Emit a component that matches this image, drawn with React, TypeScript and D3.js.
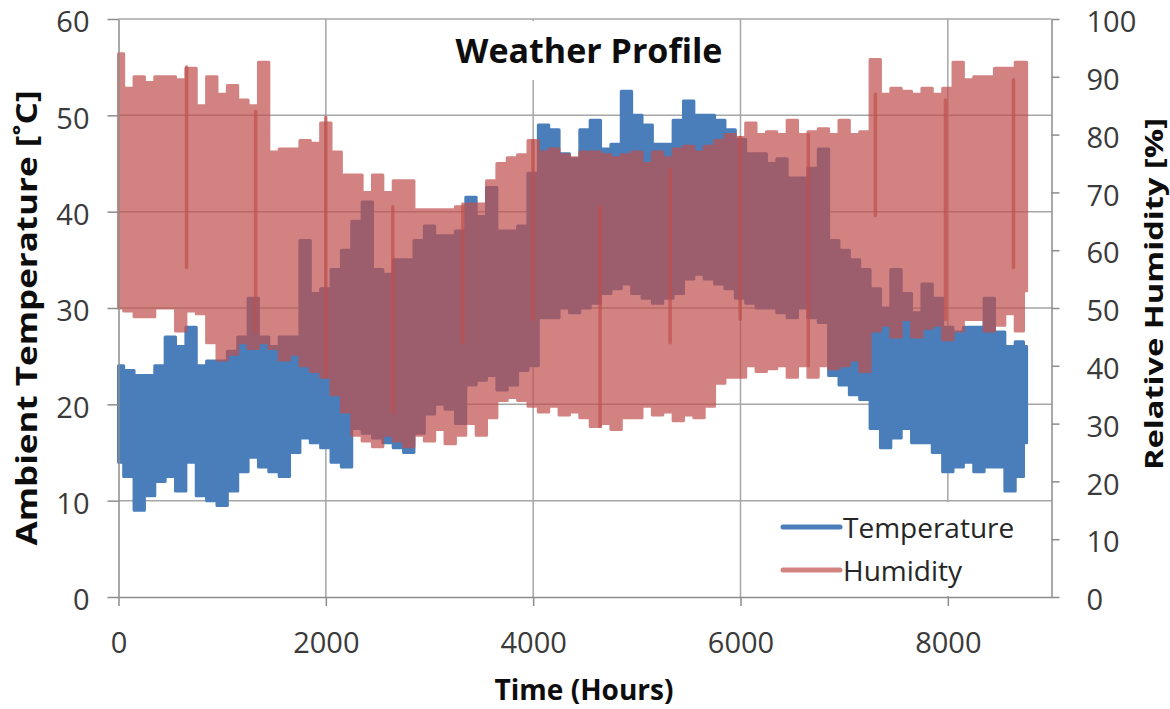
import React, { useEffect, useRef } from "react";
import * as d3 from "d3";

const hours = [
  0, 100, 200, 300, 400, 500, 600, 700, 800, 900, 1000, 1100, 1200, 1300, 1400, 1500, 1600, 1700, 1800, 1900,
  2000, 2100, 2200, 2300, 2400, 2500, 2600, 2700, 2800, 2900, 3000, 3100, 3200, 3300, 3400, 3500, 3600, 3700,
  3800, 3900, 4000, 4100, 4200, 4300, 4400, 4500, 4600, 4700, 4800, 4900, 5000, 5100, 5200, 5300, 5400, 5500,
  5600, 5700, 5800, 5900, 6000, 6100, 6200, 6300, 6400, 6500, 6600, 6700, 6800, 6900, 7000, 7100, 7200, 7300,
  7400, 7500, 7600, 7700, 7800, 7900, 8000, 8100, 8200, 8300, 8400, 8500, 8600, 8700, 8760,
];

// temperature envelope [°C]
const tempHigh = [
  24, 23.5, 23, 23, 24, 27, 26, 28, 24, 24.5, 24.5, 25.5, 27, 31, 27, 26, 27, 27, 37, 31.5,
  32, 34, 36, 39, 41, 34, 33.5, 35, 35, 37, 38.5, 37.5, 37.5, 38, 41.5, 39.5, 42.5, 38, 38, 38.5,
  44, 49, 48.5, 46, 45.5, 48.5, 49.5, 46.5, 47, 52.5, 50, 49, 47, 47, 49.5, 51.5, 50, 50, 49.5, 48.5,
  47.5, 46, 46, 45, 45.5, 43.5, 43.5, 44.5, 46.5, 37, 36, 35, 34, 32, 30, 34, 31.5, 29.5, 32.5, 31,
  28, 27.5, 28, 28, 31, 27.5, 26, 26.5, 26,
];
const tempLow = [
  14, 12.5, 9, 10.5, 12, 12.5, 11, 14, 10.5, 10, 9.5, 11, 13, 14.5, 13.5, 13, 12.5, 15, 16.5, 16,
  15.5, 14, 13.5, 17.5, 17, 16.5, 16, 15.5, 15, 17, 19, 20, 19.5, 18, 22, 22.5, 23, 21.5, 22, 23.5,
  24, 29, 29, 30, 29.5, 30, 30.5, 31.5, 32, 32.5, 31.5, 31, 30.5, 31, 31.5, 33, 33.5, 33, 32.5, 32,
  31, 30.5, 30, 30, 29.5, 29, 30, 29, 28.5, 23, 22, 21, 20.5, 17.5, 15.5, 16.5, 17.5, 16, 16, 15,
  13, 13.5, 14, 13, 13.5, 13.5, 11, 12.5, 16,
];

// relative humidity envelope [%]
const humHigh = [
  94, 88, 90, 89, 90, 90, 89.5, 91.5, 85, 90, 87, 88.5, 86, 85, 92.5, 77, 77.5, 77.5, 79, 78.5,
  82, 77, 73, 73, 70, 73, 70, 72, 72, 67, 67, 67, 67, 67.5, 68, 68, 72, 75, 76, 76.5,
  79, 77, 77.5, 76.5, 76, 77, 77, 76.5, 76, 76.5, 77, 75, 77, 76, 77.5, 78, 77, 78, 79, 80,
  79.5, 82, 80, 80.5, 80, 82.5, 80, 80.5, 81, 80, 82.5, 80, 80.5, 93, 87, 88, 87.5, 87, 88, 87,
  88, 92.5, 89.5, 90, 90, 91.5, 91.5, 92.5, 92.5,
];
const humLow = [
  50, 49.5, 48.5, 48.5, 50, 50, 46, 49.5, 49, 44, 41, 42, 44, 43, 44, 43, 41, 42, 40, 39,
  38, 35, 32, 28, 27, 26, 28, 27, 26, 28, 27, 29, 26.5, 28, 30, 28, 31, 34, 34.5, 34,
  33, 32, 33, 31.5, 32, 31, 29.5, 30, 29, 31, 31, 33, 31.5, 32, 30.5, 31.5, 31, 33, 37, 38,
  38, 40, 39, 39.5, 40, 38, 40, 38, 40, 39.5, 40, 41, 39, 46, 47, 45, 48, 45, 46.5, 47,
  44.5, 46, 48, 48, 46, 47, 49, 46, 53,
];

// big humidity swings that show up as darker vertical strokes
const jumpHours = [657, 1323, 1999, 2646, 3322, 3998, 4645, 5321, 5997, 6654, 7301, 7977, 8633];
const jumpTop = [91.7, 84, 83, 67.5, 68, 79, 67.5, 74, 79.5, 80, 87, 86, 89.5];
const jumpBottom = [57, 46, 38, 32, 44, 48, 29.5, 44, 48, 40, 66, 48, 57];

const xTicks = [0, 2000, 4000, 6000, 8000];
const tempTicks = [0, 10, 20, 30, 40, 50, 60];
const humTicks = [0, 10, 20, 30, 40, 50, 60, 70, 80, 90, 100];

const BLUE = "#4a7ebb";
const RED = "#c0504d";
const HUM_ALPHA = 0.7;
const FONT = "'Open Sans', 'DejaVu Sans', sans-serif";

const WeatherChart = () => {
  const svgRef = useRef<SVGSVGElement>(null);

  useEffect(() => {
    const svg = d3.select(svgRef.current);
    svg.selectAll("*").remove();

    const left = 118.5;
    const right = 1051.5;
    const top = 19;
    const bottom = 597;

    const xScale = d3.scaleLinear().domain([0, 9000]).range([left, right]);
    const yTemp = d3.scaleLinear().domain([0, 60]).range([bottom, top]);
    const yHum = d3.scaleLinear().domain([0, 100]).range([bottom, top]);

    // grid
    const grid = svg.append("g").attr("stroke", "#a6a6a6").attr("stroke-width", 1.5);
    grid
      .selectAll(".h")
      .data(tempTicks.slice(1))
      .join("line")
      .attr("x1", left)
      .attr("x2", right)
      .attr("y1", (d) => yTemp(d))
      .attr("y2", (d) => yTemp(d));
    grid
      .selectAll(".v")
      .data(xTicks.slice(1))
      .join("line")
      .attr("x1", (d) => xScale(d))
      .attr("x2", (d) => xScale(d))
      .attr("y1", top)
      .attr("y2", bottom);

    const idx = d3.range(hours.length);

    // temperature band
    const tempArea = d3
      .area<number>()
      .curve(d3.curveStep)
      .x((i) => xScale(hours[i]))
      .y0((i) => yTemp(tempLow[i]))
      .y1((i) => yTemp(tempHigh[i]));
    svg
      .append("path")
      .datum(idx)
      .attr("d", tempArea)
      .attr("fill", BLUE)
      .attr("stroke", BLUE)
      .attr("stroke-width", 3)
      .attr("stroke-linejoin", "round");

    // humidity band, translucent
    const humArea = d3
      .area<number>()
      .curve(d3.curveStep)
      .x((i) => xScale(hours[i]))
      .y0((i) => yHum(humLow[i]))
      .y1((i) => yHum(humHigh[i]));
    svg
      .append("g")
      .attr("opacity", HUM_ALPHA)
      .append("path")
      .datum(idx)
      .attr("d", humArea)
      .attr("fill", RED)
      .attr("stroke", RED)
      .attr("stroke-width", 3)
      .attr("stroke-linejoin", "round");

    svg
      .append("g")
      .selectAll("line")
      .data(jumpHours)
      .join("line")
      .attr("x1", (d) => xScale(d))
      .attr("x2", (d) => xScale(d))
      .attr("y1", (d, i) => yHum(jumpTop[i]))
      .attr("y2", (d, i) => yHum(jumpBottom[i]))
      .attr("stroke", RED)
      .attr("stroke-opacity", HUM_ALPHA)
      .attr("stroke-width", 3.5)
      .attr("stroke-linecap", "round");

    // title box
    svg.append("rect").attr("x", 445).attr("y", 21).attr("width", 290).attr("height", 59).attr("fill", "white");
    svg
      .append("text")
      .attr("x", 589)
      .attr("y", 63)
      .attr("text-anchor", "middle")
      .style("font-family", FONT)
      .style("font-size", "34px")
      .style("font-weight", "bold")
      .attr("fill", "#0d0d0d")
      .text("Weather Profile");

    // axes
    const styleAxis = (g) => {
      g.select(".domain").attr("stroke", "#8c8c8c").attr("stroke-width", 1.5);
      g.selectAll(".tick line").attr("stroke", "#8c8c8c").attr("stroke-width", 1.5);
      g.selectAll(".tick text")
        .attr("fill", "#3a3a3a")
        .style("font-family", FONT)
        .style("font-size", "29px");
    };

    svg
      .append("g")
      .attr("transform", `translate(${left},0)`)
      .call(d3.axisLeft(yTemp).tickValues(tempTicks).tickSize(11).tickSizeOuter(0).tickPadding(18))
      .call(styleAxis)
      .selectAll(".tick text")
      .attr("dy", "0.44em");

    svg
      .append("g")
      .attr("transform", `translate(${right},0)`)
      .call(d3.axisRight(yHum).tickValues(humTicks).tickSize(8).tickSizeOuter(0).tickPadding(27))
      .call(styleAxis)
      .selectAll(".tick text")
      .attr("dy", "0.44em");

    svg
      .append("g")
      .attr("transform", `translate(0,${bottom})`)
      .call(
        d3
          .axisBottom(xScale)
          .tickValues(xTicks)
          .tickFormat(d3.format("d"))
          .tickSize(9)
          .tickSizeOuter(0)
          .tickPadding(26)
      )
      .call(styleAxis);

    // axis titles
    const boldText = (size) =>
      svg
        .append("text")
        .attr("text-anchor", "middle")
        .style("font-family", FONT)
        .style("font-size", size)
        .style("font-weight", "bold")
        .attr("fill", "#0d0d0d");

    boldText("28px").attr("x", 584).attr("y", 700).text("Time (Hours)");
    boldText("29px")
      .attr("transform", "translate(37,318) rotate(-90)")
      .attr("textLength", 455)
      .attr("lengthAdjust", "spacingAndGlyphs")
      .text("Ambient Temperature [˚C]");
    boldText("25px")
      .attr("transform", "translate(1163,294) rotate(-90)")
      .attr("textLength", 352)
      .attr("lengthAdjust", "spacingAndGlyphs")
      .text("Relative Humidity  [%]");

    // legend
    const legend = svg.append("g");
    legend.append("rect").attr("x", 776).attr("y", 502).attr("width", 274).attr("height", 94).attr("fill", "white");
    const items = [
      { name: "Temperature", color: BLUE, alpha: 1 },
      { name: "Humidity", color: RED, alpha: HUM_ALPHA },
    ];
    items.forEach((item, i) => {
      const cy = 527 + i * 43;
      legend
        .append("line")
        .attr("x1", 783)
        .attr("x2", 840)
        .attr("y1", cy)
        .attr("y2", cy)
        .attr("stroke", item.color)
        .attr("stroke-opacity", item.alpha)
        .attr("stroke-width", 5)
        .attr("stroke-linecap", "round");
      legend
        .append("text")
        .attr("x", 843)
        .attr("y", cy + 11)
        .style("font-family", FONT)
        .style("font-size", "28px")
        .attr("fill", "#262626")
        .text(item.name);
    });
  }, []);

  return <svg ref={svgRef} width={1170} height={709} style={{ position: "absolute", left: 0, top: 0, background: "white" }} />;
};

export default function App() {
  return <WeatherChart />;
}
